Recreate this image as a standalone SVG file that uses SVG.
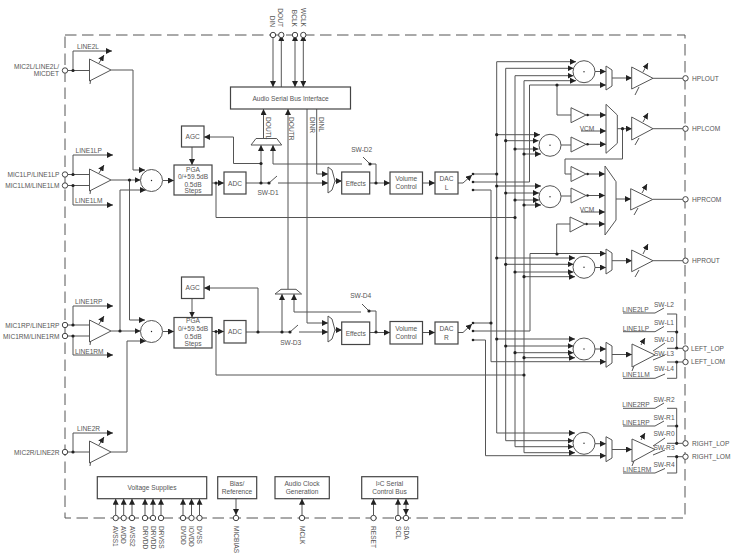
<svg xmlns="http://www.w3.org/2000/svg" width="740" height="553" viewBox="0 0 740 553">
<style>
text{font-family:"Liberation Sans",Arial,sans-serif;font-size:6.6px;fill:#555;dominant-baseline:central}
.m{text-anchor:middle}.e{text-anchor:end}
.b{fill:#fff;stroke:#444;stroke-width:1.2}
.s{fill:#fff;stroke:#555;stroke-width:1}
.c path,.t{fill:none;stroke:#555;stroke-width:1}
.d{fill:#222}
.p{fill:#fff;stroke:#444;stroke-width:1}
</style>
<defs>
<marker id="a" markerUnits="userSpaceOnUse" markerWidth="6" markerHeight="6" refX="6" refY="3" orient="auto-start-reverse"><path d="M0 0L6 3L0 6Z" fill="#222"/></marker>
</defs>
<rect width="740" height="553" fill="#fff"/>
<path id="frame" d="M65 35H685V518H65Z" fill="none" stroke="#555" stroke-width="1" stroke-dasharray="11.5 5.5"/>
<g id="connectors" class="c">
<path d="M65 70.5H89.5M73 70.5V51H112" marker-end="url(#a)"/>
<path d="M65 174.5H89.5M73 174.5V155H113" marker-end="url(#a)"/>
<path d="M65 185.5H89.5M73 185.5V205H113" marker-end="url(#a)"/>
<path d="M65 325H89.5M73 325V306H113" marker-end="url(#a)"/>
<path d="M65 336H89.5M73 336V355H113" marker-end="url(#a)"/>
<path d="M65 452H89.5M73 452V433H113" marker-end="url(#a)"/>
<path d="M111 70H133V170H145" marker-end="url(#a)"/>
<path d="M111 180H140.5" marker-end="url(#a)"/>
<path d="M120 331V190H146" marker-end="url(#a)"/>
<path d="M129.500 180V320H145" marker-end="url(#a)"/>
<path d="M111 331H140.500" marker-end="url(#a)"/>
<path d="M111 452H127V341H146" marker-end="url(#a)"/>
<path d="M163 180.500H174" marker-end="url(#a)"/>
<path d="M163 331.500H174" marker-end="url(#a)"/>
<path d="M192 147V165" marker-end="url(#a)"/>
<path d="M192 298.500V317.500" marker-end="url(#a)"/>
<path d="M212 183H224" marker-end="url(#a)"/>
<path d="M212 331.500H224" marker-end="url(#a)"/>
<path d="M216 183V217.500H515"/>
<path d="M216 331.500V375H524"/>
<path d="M246 183H269L277 176M278 183H328" marker-end="url(#a)"/>
<path d="M261 183V145" marker-end="url(#a)"/>
<path d="M261 163.500H233.500V137H204" marker-end="url(#a)"/>
<path d="M263.500 138.500V109" marker-end="url(#a)"/>
<path d="M362 164H273V145" marker-end="url(#a)"/>
<path d="M363 157L370 164H376V183"/>
<path d="M316.700 109V174H328" marker-end="url(#a)"/>
<path d="M307 109V323H328" marker-end="url(#a)"/>
<path d="M288 289.500V109" marker-end="url(#a)"/>
<path d="M246 332H290L298 325M299 332H328" marker-end="url(#a)"/>
<path d="M258 332V288H204" marker-end="url(#a)"/>
<path d="M282 332V294" marker-end="url(#a)"/>
<path d="M361 312H294V294" marker-end="url(#a)"/>
<path d="M362 304L369 311H376V332"/>
<path d="M335 181H342" marker-end="url(#a)"/>
<path d="M335 330H342" marker-end="url(#a)"/>
<path d="M370 183H390" marker-end="url(#a)"/>
<path d="M370 332.500H390" marker-end="url(#a)"/>
<path d="M422.500 183H435" marker-end="url(#a)"/>
<path d="M422.500 332.500H435" marker-end="url(#a)"/>
<path d="M458 183H463L472 175" marker-end="url(#a)"/>
<path d="M458 332.500H463L472 324" marker-end="url(#a)"/>
<path d="M473 174H496.700M473 182H529.500V85M473 190H491V361.700H606" marker-end="url(#a)"/>
<path d="M473 323H491M473 331H530V253.500H606" marker-end="url(#a)"/>
<path d="M473 340H485.500V455.700H606" marker-end="url(#a)"/>
<path d="M529.500 85H606" marker-end="url(#a)"/>
<path d="M496.700 433V61.700H576" marker-end="url(#a)"/>
<path d="M505.700 440.700V68.300H573.500" marker-end="url(#a)"/>
<path d="M515 446.700V75.700H573.500" marker-end="url(#a)"/>
<path d="M524 452.700V80.700H576" marker-end="url(#a)"/>
<path d="M496.700 134.700H540" marker-end="url(#a)"/>
<path d="M505.700 140.700H538.500" marker-end="url(#a)"/>
<path d="M515 149H538.500" marker-end="url(#a)"/>
<path d="M524 154H541" marker-end="url(#a)"/>
<path d="M496.700 186H541" marker-end="url(#a)"/>
<path d="M505.700 193H539" marker-end="url(#a)"/>
<path d="M515 200H539" marker-end="url(#a)"/>
<path d="M524 205H541" marker-end="url(#a)"/>
<path d="M496.700 258H575" marker-end="url(#a)"/>
<path d="M505.700 264.300H573.500" marker-end="url(#a)"/>
<path d="M515 272H573.500" marker-end="url(#a)"/>
<path d="M524 276.700H575" marker-end="url(#a)"/>
<path d="M496.700 339H575" marker-end="url(#a)"/>
<path d="M505.700 346H573.500" marker-end="url(#a)"/>
<path d="M515 352.700H573.500" marker-end="url(#a)"/>
<path d="M524 357.700H575" marker-end="url(#a)"/>
<path d="M496.700 433H575" marker-end="url(#a)"/>
<path d="M505.700 440.700H573.500" marker-end="url(#a)"/>
<path d="M515 446.700H573.500" marker-end="url(#a)"/>
<path d="M524 452.700H575" marker-end="url(#a)"/>
<path d="M595 71.500H606" marker-end="url(#a)"/>
<path d="M595 267.500H606" marker-end="url(#a)"/>
<path d="M595 349H606" marker-end="url(#a)"/>
<path d="M595 443.700H606" marker-end="url(#a)"/>
<path d="M612 78H632" marker-end="url(#a)"/>
<path d="M612 260.700H632" marker-end="url(#a)"/>
<path d="M612 354.500H632" marker-end="url(#a)"/>
<path d="M612 449.500H632" marker-end="url(#a)"/>
<path d="M557 85V115H571"/>
<path d="M587 115H606" marker-end="url(#a)"/>
<path d="M587 144.300H606" marker-end="url(#a)"/>
<path d="M581 131H606" marker-end="url(#a)"/>
<path d="M561 145H571"/>
<path d="M617 128.700H632" marker-end="url(#a)"/>
<path d="M622.500 128.700V159H565V174H571"/>
<path d="M587 174H605" marker-end="url(#a)"/>
<path d="M587 195.500H605" marker-end="url(#a)"/>
<path d="M581 212H605" marker-end="url(#a)"/>
<path d="M586 224H605" marker-end="url(#a)"/>
<path d="M570 224H556.700V254"/>
<path d="M561 196H571"/>
<path d="M616 199H631" marker-end="url(#a)"/>
<path d="M653 78.300H685M653 128.700H685M652.700 199.300H685M653 260.700H685"/>
</g>
<g id="amplifiers">
<g id="amp-line2l"><polygon class="s" points="89.500,59 89.500,81 111,70"/><path class="t" d="M99 63L104 55" marker-end="url(#a)"/><path class="t" d="M90.500 81L90 84"/></g>
<g id="amp-mic1l"><polygon class="s" points="89.500,169 89.500,191 111,180"/><path class="t" d="M99 173L104 165" marker-end="url(#a)"/><path class="t" d="M90.500 191L90 194"/></g>
<g id="amp-mic1r"><polygon class="s" points="89.500,320 89.500,342 111,331"/><path class="t" d="M99 324L104 316" marker-end="url(#a)"/><path class="t" d="M90.500 342L90 345"/></g>
<g id="amp-line2r"><polygon class="s" points="89.500,441 89.500,463 111,452"/><path class="t" d="M99 445L104 437" marker-end="url(#a)"/><path class="t" d="M90.500 463L90 466"/></g>
<g id="amp-hplout"><polygon class="s" points="631.700,67 631.700,89 653,78.300"/><path class="t" d="M643 72L648 63" marker-end="url(#a)"/><path class="t" d="M639 87L635 95"/></g>
<g id="amp-hplcom"><polygon class="s" points="631.700,117 631.700,140 653,128.700"/><path class="t" d="M643 122L648 113" marker-end="url(#a)"/><path class="t" d="M639 138L635 145"/></g>
<g id="amp-hprcom"><polygon class="s" points="630.700,188.700 630.700,210 652.700,199.500"/><path class="t" d="M642 193L647 184" marker-end="url(#a)"/><path class="t" d="M638 208L634 215"/></g>
<g id="amp-hprout"><polygon class="s" points="631.700,250 631.700,271.700 653,260.700"/><path class="t" d="M643 254L648 244" marker-end="url(#a)"/><path class="t" d="M639 270L635 277"/></g>
<g id="amp-left"><polygon class="s" points="632,344 632,367 655,355"/><path class="t" d="M641 345L645 338" marker-end="url(#a)"/><path class="t" d="M634 366L632 371"/></g>
<g id="amp-right"><polygon class="s" points="632,439 632,462 655,449.500"/><path class="t" d="M641 440L645 433" marker-end="url(#a)"/><path class="t" d="M634 461L632 466"/></g>
<polygon class="s" points="571,107.700 571,122.700 586,115"/>
<polygon class="s" points="571,137 571,152 586,144.300"/>
<polygon class="s" points="571,166.500 571,181.500 586,174"/>
<polygon class="s" points="571,188 571,203 586,195.500"/>
<polygon class="s" points="570,217 570,232 585,224"/>
</g>
<g id="muxes">
<polygon class="s" points="606,66 612,70 612,86 606,90"/>
<polygon class="s" points="606,104.300 617.300,115 617.300,143.300 606,153.300"/>
<polygon class="s" points="605,166 616,181.700 616,220 605,235"/>
<polygon class="s" points="606,249 612,253 612,270 606,274"/>
<polygon class="s" points="606,342.300 612,346 612,363 606,367.300"/>
<polygon class="s" points="606,436.700 612,440 612,458 606,461.700"/>
<polygon class="s" points="251,145 256,138.500 276.700,138.500 281.700,145"/>
<polygon class="s" points="275,294 281,289.300 296,289.300 301.600,294"/>
<path class="s" d="M328 167L332 170L335 181L332 190L328 193Z"/>
<path class="s" d="M328 316L332 319L335 330L332 339L328 342Z"/>
</g>
<g id="sums">
<circle class="s" cx="151.500" cy="180.500" r="11"/><circle class="d" cx="151.500" cy="180.500" r=".7"/>
<circle class="s" cx="151.500" cy="331.500" r="11"/><circle class="d" cx="151.500" cy="331.500" r=".7"/>
<circle class="s" cx="584" cy="71.700" r="11"/><circle class="d" cx="584" cy="71.700" r=".7"/>
<circle class="s" cx="550" cy="145.300" r="11"/><circle class="d" cx="550" cy="145.300" r=".7"/>
<circle class="s" cx="550" cy="196.700" r="11"/><circle class="d" cx="550" cy="196.700" r=".7"/>
<circle class="s" cx="584" cy="267.300" r="11"/><circle class="d" cx="584" cy="267.300" r=".7"/>
<circle class="s" cx="584" cy="349" r="11"/><circle class="d" cx="584" cy="349" r=".7"/>
<circle class="s" cx="584" cy="443.300" r="11"/><circle class="d" cx="584" cy="443.300" r=".7"/>
</g>
<g id="switches" class="c">
<path d="M623 313H655L664 308M667 314H676.700V348M623 331.700H655L664 326.500M667 331.700H676.700M653 351L665 343M667 348.300H685M653 360L665 355M667 362H685M623 378.300H655L665 374M667 378.300H676.700V362"/>
<path d="M623 408.300H655L664 403M667 408.300H676.700V443.300M623 426H655L664 421M667 426H676.700M653 446L665 438M667 443.300H685M653 455L665 450M667 456.700H685M623 473H655L665 468.500M667 473H676.700V456.700"/>
</g>
<g id="dots" class="d">
<circle cx="73" cy="70.500" r="1.600"/><circle cx="73" cy="174.500" r="1.600"/><circle cx="73" cy="185.500" r="1.600"/><circle cx="73" cy="325" r="1.600"/><circle cx="73" cy="336" r="1.600"/><circle cx="73" cy="452" r="1.600"/>
<circle cx="129.500" cy="180" r="1.600"/><circle cx="120" cy="331" r="1.600"/>
<circle cx="216" cy="183" r="1.600"/><circle cx="216" cy="331.500" r="1.600"/>
<circle cx="261" cy="183" r="1.600"/><circle cx="261" cy="163.500" r="1.600"/><circle cx="269" cy="183" r="1.600"/><circle cx="370" cy="164" r="1.600"/><circle cx="376" cy="183" r="1.600"/>
<circle cx="258" cy="332" r="1.600"/><circle cx="282" cy="332" r="1.600"/><circle cx="290" cy="332" r="1.600"/><circle cx="369" cy="311" r="1.600"/><circle cx="376" cy="332" r="1.600"/>
<circle cx="473" cy="174" r="1.300"/><circle cx="473" cy="182" r="1.300"/><circle cx="473" cy="190" r="1.300"/><circle cx="473" cy="323" r="1.300"/><circle cx="473" cy="331" r="1.300"/><circle cx="473" cy="340" r="1.300"/>
<circle cx="496.700" cy="174" r="1.600"/><circle cx="515" cy="217.500" r="1.600"/><circle cx="524" cy="375" r="1.600"/><circle cx="491" cy="323" r="1.600"/>
<circle cx="557" cy="85" r="1.600"/><circle cx="557" cy="254" r="1.600"/><circle cx="622.500" cy="128.700" r="1.600"/>
<circle cx="587.500" cy="115" r="1.300"/><circle cx="587.500" cy="144.300" r="1.300"/><circle cx="587.500" cy="174" r="1.300"/><circle cx="587.500" cy="195.500" r="1.300"/><circle cx="586.500" cy="224" r="1.300"/>
<circle cx="496.700" cy="134.700" r="1.600"/><circle cx="505.700" cy="140.700" r="1.600"/><circle cx="515" cy="149" r="1.600"/><circle cx="524" cy="154" r="1.600"/>
<circle cx="496.700" cy="186" r="1.600"/><circle cx="505.700" cy="193" r="1.600"/><circle cx="515" cy="200" r="1.600"/><circle cx="524" cy="205" r="1.600"/>
<circle cx="496.700" cy="258" r="1.600"/><circle cx="505.700" cy="264.300" r="1.600"/><circle cx="515" cy="272" r="1.600"/><circle cx="524" cy="276.700" r="1.600"/>
<circle cx="496.700" cy="339" r="1.600"/><circle cx="505.700" cy="346" r="1.600"/><circle cx="515" cy="352.700" r="1.600"/><circle cx="524" cy="357.700" r="1.600"/>
<circle cx="676.700" cy="332" r="1.600"/><circle cx="676.700" cy="348" r="1.600"/><circle cx="676.700" cy="362" r="1.600"/><circle cx="676.700" cy="426" r="1.600"/><circle cx="676.700" cy="443.300" r="1.600"/><circle cx="676.700" cy="456.700" r="1.600"/>
</g>
<g id="bus-connectors" class="c">
<path d="M273 35V87" marker-end="url(#a)"/>
<path d="M281.300 87V35" marker-end="url(#a)"/>
<path d="M295 35V87" marker-start="url(#a)" marker-end="url(#a)"/>
<path d="M303.300 35V87" marker-start="url(#a)" marker-end="url(#a)"/>
<path d="M115.700 518V498.700" marker-end="url(#a)"/><path d="M123.700 518V498.700" marker-end="url(#a)"/><path d="M132 518V498.700" marker-end="url(#a)"/>
<path d="M145 518V498.700" marker-end="url(#a)"/><path d="M153 518V498.700" marker-end="url(#a)"/><path d="M161 518V498.700" marker-end="url(#a)"/>
<path d="M183 518V498.700" marker-end="url(#a)"/><path d="M191.500 518V498.700" marker-end="url(#a)"/><path d="M199.500 518V498.700" marker-end="url(#a)"/>
<path d="M236 498.700V515" marker-end="url(#a)"/>
<path d="M302 518V498.700" marker-end="url(#a)"/>
<path d="M373.500 518V498.700" marker-end="url(#a)"/>
<path d="M398 518V498.700" marker-end="url(#a)"/>
<path d="M406 515V498.700" marker-start="url(#a)" marker-end="url(#a)"/>
</g>
<g id="agc-l"><rect class="b" x="181.500" y="126" width="22.500" height="21"/><text class="m" x="192.700" y="136.500">AGC</text></g>
<g id="agc-r"><rect class="b" x="181.500" y="277" width="22.500" height="21.500"/><text class="m" x="192.700" y="287.800">AGC</text></g>
<g id="pga-l"><rect class="b" x="174" y="165" width="38" height="30"/><text class="m" x="193" y="169">PGA</text><text class="m" x="193" y="176">0/+59.5dB</text><text class="m" x="193" y="184">0.5dB</text><text class="m" x="193" y="190.500">Steps</text></g>
<g id="pga-r"><rect class="b" x="174" y="317.500" width="38" height="30.500"/><text class="m" x="193" y="320.500">PGA</text><text class="m" x="193" y="328.500">0/+59.5dB</text><text class="m" x="193" y="336">0.5dB</text><text class="m" x="193" y="343">Steps</text></g>
<g id="adc-l"><rect class="b" x="224" y="172" width="22" height="22"/><text class="m" x="235" y="183">ADC</text></g>
<g id="adc-r"><rect class="b" x="224" y="320.500" width="22" height="22.500"/><text class="m" x="235" y="331.500">ADC</text></g>
<g id="serial"><rect class="b" x="230.500" y="87" width="120" height="22"/><text class="m" x="290.500" y="98">Audio Serial Bus Interface</text></g>
<g id="effects-l"><rect class="b" x="341.700" y="172" width="28" height="22"/><text class="m" x="355.700" y="183">Effects</text></g>
<g id="effects-r"><rect class="b" x="341.700" y="322" width="28" height="22.500"/><text class="m" x="355.700" y="333">Effects</text></g>
<g id="vol-l"><rect class="b" x="390" y="172" width="32.500" height="22"/><text class="m" x="406.200" y="178.500">Volume</text><text class="m" x="406.200" y="186.500">Control</text></g>
<g id="vol-r"><rect class="b" x="390" y="321.500" width="32.500" height="22.500"/><text class="m" x="406.200" y="328">Volume</text><text class="m" x="406.200" y="336">Control</text></g>
<g id="dac-l"><rect class="b" x="435" y="172" width="23" height="22"/><text class="m" x="446.500" y="178.500">DAC</text><text class="m" x="446.500" y="187.500">L</text></g>
<g id="dac-r"><rect class="b" x="435" y="322" width="23" height="22"/><text class="m" x="446.500" y="328">DAC</text><text class="m" x="446.500" y="337">R</text></g>
<g id="voltage"><rect class="b" x="97.300" y="476.700" width="109.400" height="22"/><text class="m" x="152" y="487.500">Voltage Supplies</text></g>
<g id="bias"><rect class="b" x="217.700" y="476.700" width="39" height="22"/><text class="m" x="237" y="483">Bias/</text><text class="m" x="237" y="491">Reference</text></g>
<g id="clock"><rect class="b" x="275" y="476.700" width="54.300" height="22"/><text class="m" x="302" y="483">Audio Clock</text><text class="m" x="302" y="491">Generation</text></g>
<g id="i2c"><rect class="b" x="361.700" y="476.700" width="56" height="22"/><text class="m" x="389.500" y="483">I²C Serial</text><text class="m" x="389.500" y="491">Control Bus</text></g>
<g id="pins">
<circle class="p" cx="65" cy="70.500" r="2.700"/><circle class="p" cx="65" cy="174.500" r="2.700"/><circle class="p" cx="65" cy="185.500" r="2.700"/><circle class="p" cx="65" cy="325" r="2.700"/><circle class="p" cx="65" cy="336" r="2.700"/><circle class="p" cx="65" cy="452" r="2.700"/>
<circle class="p" cx="273" cy="35" r="2.700"/><circle class="p" cx="281.300" cy="35" r="2.700"/><circle class="p" cx="295" cy="35" r="2.700"/><circle class="p" cx="303.300" cy="35" r="2.700"/>
<circle class="p" cx="685.500" cy="78.300" r="2.700"/><circle class="p" cx="685.500" cy="128.700" r="2.700"/><circle class="p" cx="685.500" cy="199.300" r="2.700"/><circle class="p" cx="685.500" cy="260.700" r="2.700"/><circle class="p" cx="685.500" cy="348.500" r="2.700"/><circle class="p" cx="685.500" cy="362" r="2.700"/><circle class="p" cx="685.500" cy="443.300" r="2.700"/><circle class="p" cx="685.500" cy="456.700" r="2.700"/>
<circle class="p" cx="115.700" cy="518" r="2.700"/><circle class="p" cx="123.700" cy="518" r="2.700"/><circle class="p" cx="132" cy="518" r="2.700"/><circle class="p" cx="145" cy="518" r="2.700"/><circle class="p" cx="153" cy="518" r="2.700"/><circle class="p" cx="161" cy="518" r="2.700"/><circle class="p" cx="183" cy="518" r="2.700"/><circle class="p" cx="191.500" cy="518" r="2.700"/><circle class="p" cx="199.500" cy="518" r="2.700"/><circle class="p" cx="236" cy="518" r="2.700"/><circle class="p" cx="302" cy="518" r="2.700"/><circle class="p" cx="373.500" cy="518" r="2.700"/><circle class="p" cx="398" cy="518" r="2.700"/><circle class="p" cx="406" cy="518" r="2.700"/>
</g>
<g id="labels">
<text class="e" x="59" y="66">MIC2L/LINE2L/</text><text class="e" x="59" y="73.500">MICDET</text>
<text class="e" x="59.500" y="174.500">MIC1LP/LINE1LP</text><text class="e" x="59.500" y="185.500">MIC1LM/LINE1LM</text>
<text class="e" x="59.500" y="325">MIC1RP/LINE1RP</text><text class="e" x="59.500" y="336">MIC1RM/LINE1RM</text><text class="e" x="59.500" y="452">MIC2R/LINE2R</text>
<text x="77" y="46.500">LINE2L</text><text x="75.500" y="150.500">LINE1LP</text><text x="75" y="200">LINE1LM</text><text x="75" y="301.500">LINE1RP</text><text x="75" y="351">LINE1RM</text><text x="77" y="428.500">LINE2R</text>
<text class="m" x="268" y="192.700">SW-D1</text><text class="m" x="361.700" y="149">SW-D2</text><text class="m" x="290.700" y="342">SW-D3</text><text class="m" x="360.700" y="295.700">SW-D4</text>
<text class="m" x="587" y="128">VCM</text><text class="m" x="587" y="209.500">VCM</text>
<text x="692" y="78">HPLOUT</text><text x="692" y="128.700">HPLCOM</text><text x="692" y="199">HPRCOM</text><text x="692" y="260.700">HPROUT</text>
<text x="691" y="348">LEFT_LOP</text><text x="691" y="361">LEFT_LOM</text><text x="692" y="443">RIGHT_LOP</text><text x="692" y="456.500">RIGHT_LOM</text>
<text class="m" x="635.500" y="309">LINE2LP</text><text class="m" x="664" y="304.700">SW-L2</text><text class="m" x="636" y="328">LINE1LP</text><text class="m" x="664" y="322">SW-L1</text><text class="m" x="664" y="339">SW-L0</text><text class="m" x="664" y="353">SW-L3</text><text class="m" x="664" y="368.700">SW-L4</text><text class="m" x="636" y="374.500">LINE1LM</text>
<text class="m" x="636" y="404.500">LINE2RP</text><text class="m" x="664" y="399.500">SW-R2</text><text class="m" x="636" y="422.500">LINE1RP</text><text class="m" x="664" y="417">SW-R1</text><text class="m" x="664" y="433">SW-R0</text><text class="m" x="664" y="447.500">SW-R3</text><text class="m" x="664" y="464">SW-R4</text><text class="m" x="637" y="469.500">LINE1RM</text>
<text class="e" transform="rotate(90 272.700 27)" x="272.700" y="27">DIN</text><text class="e" transform="rotate(90 280.700 27)" x="280.700" y="27">DOUT</text><text class="e" transform="rotate(90 294.700 27)" x="294.700" y="27">BCLK</text><text class="e" transform="rotate(90 303 27)" x="303" y="27">WCLK</text>
<text transform="rotate(90 268 117)" x="268" y="117">DOUTL</text><text transform="rotate(90 291.700 117)" x="291.700" y="117">DOUTR</text><text transform="rotate(90 312 117)" x="312" y="117">DINR</text><text transform="rotate(90 321.700 117)" x="321.700" y="117">DINL</text>
<text transform="rotate(90 115.700 526)" x="115.700" y="526">AVSS1</text><text transform="rotate(90 123.700 526)" x="123.700" y="526">AVDD</text><text transform="rotate(90 132 526)" x="132" y="526">AVSS2</text>
<text transform="rotate(90 145 526)" x="145" y="526">DRVDD</text><text transform="rotate(90 153 526)" x="153" y="526">DRVDD</text><text transform="rotate(90 161 526)" x="161" y="526">DRVSS</text>
<text transform="rotate(90 183 526)" x="183" y="526">DVDD</text><text transform="rotate(90 191.500 526)" x="191.500" y="526">IOVDD</text><text transform="rotate(90 199.500 526)" x="199.500" y="526">DVSS</text>
<text transform="rotate(90 236 526)" x="236" y="526">MICBIAS</text><text transform="rotate(90 302 526)" x="302" y="526">MCLK</text><text transform="rotate(90 373.500 526)" x="373.500" y="526">RESET</text><text transform="rotate(90 398 526)" x="398" y="526">SCL</text><text transform="rotate(90 406 526)" x="406" y="526">SDA</text>
</g>
</svg>
